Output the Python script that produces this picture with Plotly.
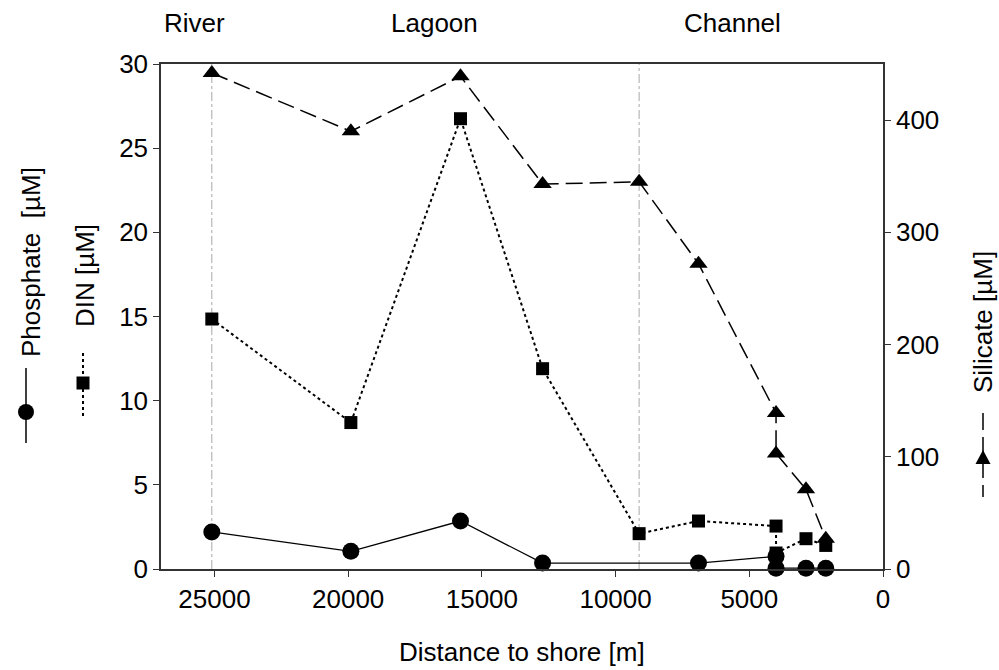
import plotly.graph_objects as go

# Data
dist_phos = [25100, 19900, 15800, 12730, 6900, 4000, 4000, 2880, 2140]
phosphate = [2.2, 1.05, 2.85, 0.35, 0.35, 0.75, 0.05, 0.05, 0.05]

dist_din = [25100, 19900, 15800, 12730, 9120, 6900, 4000, 4000, 2880, 2140]
din = [14.85, 8.7, 26.75, 11.9, 2.1, 2.85, 2.55, 0.95, 1.8, 1.4]

dist_si = [25100, 19900, 15800, 12730, 9120, 6900, 4000, 4000, 2880, 2140]
silicate = [442, 390, 439, 343, 345, 272, 139, 103, 71, 27]

boundaries = [25100, 9120]
regions = ["River", "Lagoon", "Channel"]
region_x = [25760, 16790, 5610]

x_ticks = [25000, 20000, 15000, 10000, 5000, 0]
y_ticks = [0, 5, 10, 15, 20, 25, 30]
y2_ticks = [0, 100, 200, 300, 400]

FONT = "Liberation Sans, Arial, sans-serif"
FS = 26

W, H = 999, 670
L, R, T, B = 161, 116, 64, 101
pw, ph = W - L - R, H - T - B


def px(xp):
    return (xp - L) / pw


def py(yp):
    return (H - B - yp) / ph


fig = go.Figure()

shapes = []
for b in boundaries:
    shapes.append(dict(type="line", xref="x", yref="paper", x0=b, x1=b, y0=0, y1=1,
                       line=dict(color="#a8a8a8", width=1, dash="dashdot"), layer="below"))

fig.add_trace(go.Scatter(x=dist_si, y=silicate, yaxis="y2", mode="lines+markers", cliponaxis=False,
                         line=dict(color="black", width=1.5, dash="17px,7px"),
                         marker=dict(symbol="triangle-up", size=16, color="black"),
                         name="Silicate"))
fig.add_trace(go.Scatter(x=dist_din, y=din, mode="lines+markers", cliponaxis=False,
                         line=dict(color="black", width=2, dash="dot"),
                         marker=dict(symbol="square", size=13, color="black"),
                         name="DIN"))
fig.add_trace(go.Scatter(x=dist_phos, y=phosphate, mode="lines+markers", cliponaxis=False,
                         line=dict(color="black", width=1.3),
                         marker=dict(symbol="circle", size=17, color="black"),
                         name="Phosphate"))

tf = dict(size=FS, color="black", family=FONT)
ann = []
for r, rx in zip(regions, region_x):
    ann.append(dict(x=rx, y=1, xref="x", yref="paper", yshift=41, yanchor="middle", xanchor="center",
                    text=r, showarrow=False, font=tf))
ann.append(dict(x=px(522), y=py(652), xref="paper", yref="paper", xanchor="center", yanchor="middle",
                text="Distance to shore [m]", showarrow=False, font=tf))
ann.append(dict(x=px(31), y=py(262), xref="paper", yref="paper", xanchor="center", yanchor="middle",
                text="Phosphate  [µM]", textangle=-90, showarrow=False, font=tf))
ann.append(dict(x=px(85), y=py(276), xref="paper", yref="paper", xanchor="center", yanchor="middle",
                text="DIN [µM]", textangle=-90, showarrow=False, font=tf))
ann.append(dict(x=px(983), y=py(322), xref="paper", yref="paper", xanchor="center", yanchor="middle",
                text="Silicate [µM]", textangle=-90, showarrow=False, font=tf))

# legend key glyphs
shapes.append(dict(type="line", xref="paper", yref="paper", x0=px(26), x1=px(26), y0=py(368), y1=py(443),
                   line=dict(color="black", width=1.5)))
shapes.append(dict(type="circle", xref="paper", yref="paper", x0=px(18), x1=px(34), y0=py(404), y1=py(420),
                   fillcolor="black", line=dict(color="black", width=0)))
shapes.append(dict(type="line", xref="paper", yref="paper", x0=px(83), x1=px(83), y0=py(353), y1=py(417),
                   line=dict(color="black", width=2, dash="dot")))
shapes.append(dict(type="rect", xref="paper", yref="paper", x0=px(76.5), x1=px(89.5), y0=py(376.5), y1=py(389.5),
                   fillcolor="black", line=dict(color="black", width=0)))
shapes.append(dict(type="line", xref="paper", yref="paper", x0=px(983), x1=px(983), y0=py(413), y1=py(497),
                   line=dict(color="black", width=1.5, dash="17px,7px")))
tx, ty = px(983), py(457)
dx, dy = 7.5 / pw, 7 / ph
shapes.append(dict(type="path", xref="paper", yref="paper",
                   path=f"M {tx-dx} {ty-dy} L {tx+dx} {ty-dy} L {tx} {ty+dy} Z",
                   fillcolor="black", line=dict(color="black", width=0)))

axis_common = dict(showgrid=False, zeroline=False, showline=True, linecolor="#333333", linewidth=1.5,
                   ticks="outside", ticklen=6, tickcolor="#333333", tickwidth=1.3,
                   tickfont=tf)

fig.update_layout(
    width=W, height=H,
    margin=dict(l=L, r=R, t=T, b=B),
    paper_bgcolor="white", plot_bgcolor="white",
    showlegend=False,
    font=dict(family=FONT, color="black"),
    annotations=ann,
    shapes=shapes,
    xaxis=dict(range=[27000, 0], tickvals=x_ticks, tickformat="d", mirror=True, **axis_common),
    yaxis=dict(range=[0, 30], tickvals=y_ticks, **axis_common),
    yaxis2=dict(range=[0, 450], tickvals=y2_ticks, overlaying="y", side="right", **axis_common),
)

fig.write_html("out.html")
